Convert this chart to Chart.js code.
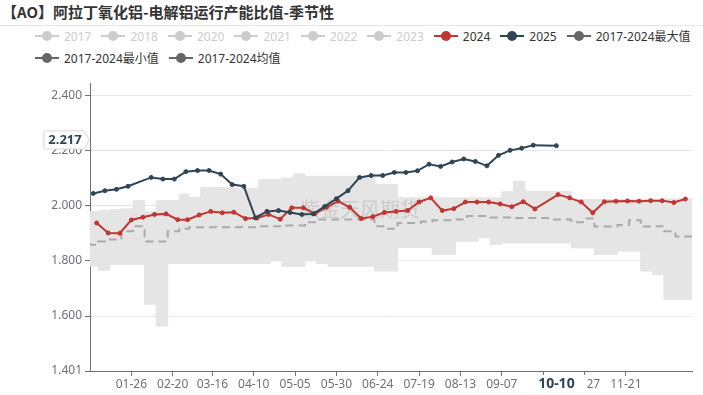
<!DOCTYPE html>
<html>
<head>
<meta charset="utf-8">
<script src="https://cdn.jsdelivr.net/npm/chart.js@4.4.1/dist/chart.umd.min.js"></script>
<style>
    html, body { margin: 0; padding: 0; background: #fff; }
    body { width: 703px; height: 395px; position: relative; overflow: hidden;
           font-family: "Noto Sans", "Noto Sans CJK SC", sans-serif; }
    #title { position: absolute; left: 2px; top: 1px; font-size: 15px; font-weight: bold; color: #333;
             line-height: 22px; font-family: "Noto Sans CJK SC", "Noto Sans", sans-serif; white-space: nowrap; }
    #sep { position: absolute; left: 0; right: 0; top: 25px; height: 1px; background: #e6e6e6; }
    #legend { position: absolute; left: 35px; top: 25px; width: 665px; display: flex; flex-wrap: wrap; column-gap: 10px; }
    .item { display: flex; align-items: center; height: 22px; font-size: 12px; white-space: nowrap; }
    .icon { width: 24px; height: 10px; position: relative; margin-right: 5px; }
    .icon .ln { position: absolute; left: 0; right: 0; top: 4px; height: 2px; }
    .icon .dot { position: absolute; left: 7px; top: 0; width: 10px; height: 10px; border-radius: 50%; }
    #chart { position: absolute; left: 0; top: 0; }
</style>
</head>
<body>
<div id="title">【AO】阿拉丁氧化铝-电解铝运行产能比值-季节性</div>
<div id="sep"></div>
<div id="legend"></div>
<canvas id="chart" width="703" height="395"></canvas>
<script>
// legend entries (2017-2023 are switched off in the original)
const legendNames = ["2017", "2018", "2020", "2021", "2022", "2023", "2024", "2025",
    "2017-2024最大值", "2017-2024最小值", "2017-2024均值"];
const hiddenNames = ["2017", "2018", "2020", "2021", "2022", "2023"];

const tickLabels = ["01-26", "02-20", "03-16", "04-10", "05-05", "05-30", "06-24",
    "07-19", "08-13", "09-07", "10-02", "10-27", "11-21"];
const yTicks = [1.401, 1.6, 1.8, 2.0, 2.2, 2.4];

const dates2024 = ["01-05", "01-12", "01-19", "01-26", "02-02", "02-09", "02-16", "02-23",
    "03-01", "03-08", "03-15", "03-22", "03-29", "04-05", "04-12", "04-19", "04-26",
    "05-03", "05-10", "05-17", "05-24", "05-31", "06-07", "06-14", "06-21", "06-28",
    "07-05", "07-12", "07-19", "07-26", "08-02", "08-09", "08-16", "08-23", "08-30",
    "09-06", "09-13", "09-20", "09-27", "10-11", "10-18", "10-25", "11-01", "11-08",
    "11-15", "11-22", "11-29", "12-06", "12-13", "12-20", "12-27"];
const values2024 = [1.937, 1.901, 1.900, 1.948, 1.958, 1.968, 1.970, 1.949,
    1.949, 1.966, 1.979, 1.974, 1.976, 1.953, 1.955, 1.968, 1.951,
    1.992, 1.992, 1.971, 1.994, 2.016, 1.994, 1.953, 1.960, 1.975,
    1.979, 1.982, 2.013, 2.028, 1.982, 1.989, 2.013, 2.013, 2.013,
    2.006, 1.996, 2.014, 1.988, 2.040, 2.028, 2.013, 1.974, 2.014,
    2.016, 2.017, 2.016, 2.018, 2.018, 2.011, 2.024];

const dates2025 = ["01-03", "01-10", "01-17", "01-24", "02-07", "02-14", "02-21", "02-28",
    "03-07", "03-14", "03-21", "03-28", "04-04", "04-11", "04-18", "04-25",
    "05-02", "05-09", "05-16", "05-23", "05-30", "06-06", "06-13", "06-20", "06-27",
    "07-04", "07-11", "07-18", "07-25", "08-01", "08-08", "08-15", "08-22", "08-29",
    "09-05", "09-12", "09-19", "09-26", "10-10"];
const values2025 = [2.044, 2.054, 2.059, 2.070, 2.102, 2.096, 2.096, 2.123,
    2.127, 2.127, 2.114, 2.076, 2.070, 1.956, 1.979, 1.982,
    1.975, 1.968, 1.970, 1.997, 2.025, 2.054, 2.102, 2.109, 2.109,
    2.120, 2.120, 2.126, 2.150, 2.142, 2.158, 2.169, 2.160, 2.144,
    2.182, 2.200, 2.208, 2.219, 2.217];

// weekly 2017-2024 statistics (step series)
const bandDates = ["01-01", "01-06", "01-13", "01-20", "01-27", "02-03", "02-10", "02-17", "02-24",
    "03-02", "03-09", "03-16", "03-23", "03-30", "04-06", "04-13", "04-20", "04-27",
    "05-04", "05-11", "05-18", "05-25", "06-01", "06-08", "06-15", "06-22", "06-29",
    "07-06", "07-13", "07-20", "07-27", "08-03", "08-10", "08-17", "08-24", "08-31",
    "09-07", "09-14", "09-21", "09-28", "10-05", "10-12", "10-19", "10-26",
    "11-02", "11-09", "11-16", "11-23", "11-30", "12-07", "12-14", "12-21", "12-28", "12-31"];
const maxValues = [1.978, 1.978, 1.982, 1.985, 1.988, 2.018, 1.978, 2.018, 2.018,
    2.042, 2.029, 2.065, 2.065, 2.065, 2.062, 2.062, 2.094, 2.094,
    2.100, 2.115, 2.106, 2.106, 2.106, 2.106, 2.106, 2.106, 2.076,
    2.076, 2.028, 2.028, 2.028, 2.028, 2.028, 2.028, 2.028, 2.028,
    2.028, 2.050, 2.088, 2.052, 2.052, 2.052, 2.052, 2.022,
    2.022, 2.022, 2.022, 2.022, 2.022, 2.022, 2.022, 2.025, 2.025, 2.025];
const minValues = [1.781, 1.781, 1.766, 1.787, 1.787, 1.787, 1.643, 1.564, 1.790,
    1.790, 1.790, 1.790, 1.790, 1.790, 1.790, 1.790, 1.790, 1.800,
    1.780, 1.780, 1.800, 1.790, 1.780, 1.780, 1.780, 1.780, 1.763,
    1.763, 1.848, 1.848, 1.848, 1.823, 1.823, 1.871, 1.871, 1.885,
    1.859, 1.865, 1.865, 1.865, 1.865, 1.865, 1.865, 1.847,
    1.847, 1.823, 1.823, 1.835, 1.835, 1.763, 1.750, 1.660, 1.660, 1.660];
const meanValues = [1.865, 1.858, 1.870, 1.877, 1.907, 1.925, 1.870, 1.870, 1.907,
    1.916, 1.922, 1.922, 1.922, 1.922, 1.922, 1.922, 1.925, 1.925,
    1.928, 1.928, 1.940, 1.950, 1.950, 1.950, 1.950, 1.950, 1.925,
    1.916, 1.937, 1.937, 1.942, 1.947, 1.947, 1.950, 1.962, 1.962,
    1.957, 1.957, 1.955, 1.955, 1.955, 1.950, 1.950, 1.940,
    1.953, 1.924, 1.924, 1.930, 1.947, 1.924, 1.925, 1.907, 1.888, 1.888];

const pointerDate = "10-10";
const pointerValue = "2.217";
const watermark = "紫金天风期货";

const RED = "#c23531";
const NAVY = "#2f4554";
const GREY = "#666";
const AXIS = "#6e7079";

const monthStart = [0, 31, 59, 90, 120, 151, 181, 212, 243, 273, 304, 334];
function dayIdx(md) {
    const [m, d] = md.split("-").map(Number);
    return monthStart[m - 1] + d - 1;
}
function toPoints(dates, values) {
    return dates.map((d, i) => ({ x: dayIdx(d), y: values[i] }));
}

// legend
const legendColor = (name) => {
    if (hiddenNames.includes(name)) return "#ccc";
    if (name === "2024") return RED;
    if (name === "2025") return NAVY;
    return GREY;
};
const legend = document.getElementById("legend");
legendNames.forEach((name) => {
    const c = legendColor(name);
    const item = document.createElement("div");
    item.className = "item";
    item.style.color = hiddenNames.includes(name) ? "#ccc" : "#333";
    item.innerHTML = `<span class="icon"><span class="ln" style="background:${c}"></span>` +
        `<span class="dot" style="background:${c}"></span></span><span>${name}</span>`;
    legend.appendChild(item);
});

const tickMap = {};
tickLabels.forEach((t) => { tickMap[dayIdx(t)] = t; });

const overlay = {
    id: "overlay",
    afterDatasetDraw(chart, args) {
        if (args.index !== 3) return;
        const ctx = chart.ctx;
        ctx.save();
        ctx.font = '20px "Noto Sans CJK SC"';
        ctx.fillStyle = "rgba(110,110,110,0.22)";
        ctx.textAlign = "center";
        ctx.textBaseline = "middle";
        ctx.fillText(watermark, 360, 209);
        ctx.restore();
    },
    afterDraw(chart) {
        const ctx = chart.ctx;
        const xs = chart.scales.x;
        ctx.save();
        // x axis pointer label
        const cx = xs.getPixelForValue(dayIdx(pointerDate));
        ctx.fillStyle = "#fff";
        ctx.fillRect(cx - 30, 375, 61, 19);
        ctx.font = 'bold 14px "Noto Sans"';
        ctx.fillStyle = NAVY;
        ctx.textAlign = "center";
        ctx.textBaseline = "middle";
        ctx.fillText(pointerDate, cx, 384);
        // y axis pointer label
        const cy = 140;
        ctx.beginPath();
        ctx.moveTo(44, cy - 9);
        ctx.lineTo(84, cy - 9);
        ctx.lineTo(89, cy);
        ctx.lineTo(84, cy + 9);
        ctx.lineTo(44, cy + 9);
        ctx.closePath();
        ctx.shadowColor = "rgba(0,0,0,0.15)";
        ctx.shadowBlur = 3;
        ctx.fillStyle = "#fff";
        ctx.fill();
        ctx.shadowBlur = 0;
        ctx.strokeStyle = "#ddd";
        ctx.lineWidth = 1;
        ctx.stroke();
        ctx.font = 'bold 13px "Noto Sans"';
        ctx.fillStyle = NAVY;
        ctx.fillText(pointerValue, 65, cy);
        ctx.restore();
    }
};

new Chart(document.getElementById("chart"), {
    type: "line",
    data: {
        datasets: [
            {
                label: "2025",
                data: toPoints(dates2025, values2025),
                borderColor: NAVY,
                backgroundColor: NAVY,
                borderWidth: 2,
                pointRadius: 2,
                pointBorderWidth: 1,
            },
            {
                label: "2024",
                data: toPoints(dates2024, values2024),
                borderColor: RED,
                backgroundColor: RED,
                borderWidth: 2,
                pointRadius: 2,
                pointBorderWidth: 1,
            },
            {
                label: "2017-2024均值",
                data: toPoints(bandDates, meanValues),
                stepped: "after",
                borderColor: "#aaa",
                borderWidth: 2,
                borderDash: [8, 5],
                pointRadius: 0,
                fill: false,
            },
            {
                label: "2017-2024最大值",
                data: toPoints(bandDates, maxValues),
                stepped: "after",
                borderColor: "#e5e5e5",
                borderWidth: 1,
                backgroundColor: "#e5e5e5",
                pointRadius: 0,
                fill: "+1",
            },
            {
                label: "2017-2024最小值",
                data: toPoints(bandDates, minValues),
                stepped: "after",
                borderColor: "#e5e5e5",
                borderWidth: 1,
                pointRadius: 0,
                fill: false,
            },
        ],
    },
    options: {
        responsive: false,
        animation: false,
        layout: { padding: { top: 83, right: 11, left: 0, bottom: 0 } },
        plugins: {
            legend: { display: false },
            tooltip: { enabled: false },
        },
        scales: {
            x: {
                type: "linear",
                min: 0,
                max: 364,
                afterBuildTicks: (scale) => {
                    scale.ticks = tickLabels.map((t) => ({ value: dayIdx(t) }));
                },
                afterFit: (scale) => { scale.height = 24; },
                ticks: {
                    autoSkip: false,
                    maxRotation: 0,
                    padding: 1,
                    color: AXIS,
                    font: { size: 12, family: "Noto Sans" },
                    callback: (v) => tickMap[v] || "",
                },
                grid: { drawOnChartArea: false, tickLength: 5, tickColor: AXIS },
                border: { color: AXIS },
            },
            y: {
                min: 1.401,
                max: 2.444,
                afterBuildTicks: (scale) => {
                    scale.ticks = yTicks.map((v) => ({ value: v }));
                },
                afterFit: (scale) => { scale.width = 90; },
                ticks: {
                    color: AXIS,
                    font: { size: 12, family: "Noto Sans" },
                    callback: (v) => Number(v).toFixed(3),
                },
                grid: { color: "#e6e6e6", tickLength: 5, tickColor: AXIS },
                border: { color: AXIS },
            },
        },
    },
    plugins: [overlay],
});
</script>
</body>
</html>
